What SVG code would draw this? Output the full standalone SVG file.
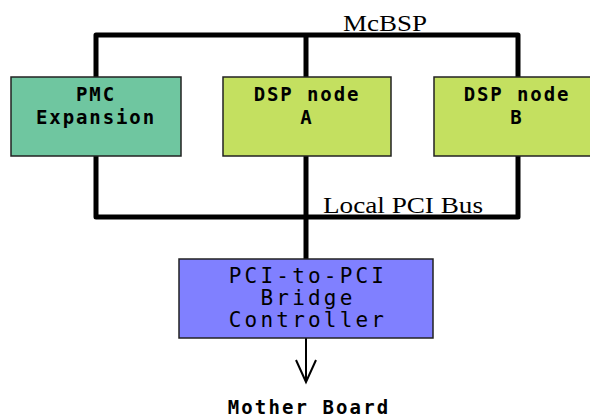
<svg xmlns="http://www.w3.org/2000/svg" width="590" height="417" viewBox="0 0 590 417">
<style>
.bus{fill:none;stroke:#000;stroke-width:5;stroke-linejoin:round}
.thin{fill:none;stroke:#000;stroke-width:2}
.box{stroke:#222;stroke-width:1.5}
.lbl{font-family:"DejaVu Sans Mono","Liberation Mono",monospace;font-weight:bold;font-size:19px;letter-spacing:1.9px;text-anchor:middle;fill:#000}
.wide{font-weight:normal;font-size:21px;letter-spacing:3.2px}
.bus-lbl{font-family:"Liberation Serif",serif;font-size:23px;fill:#000}
</style>
<rect width="590" height="417" fill="#fff"/>
<g id="connectors">
<polyline class="bus" points="96,77 96,35 518,35 518,77"/>
<line class="bus" x1="306" y1="35" x2="306" y2="77"/>
<polyline class="bus" points="96,156 96,217 518,217 518,156"/>
<line class="bus" x1="306" y1="156" x2="306" y2="259"/>
<line class="thin" x1="306" y1="338" x2="306" y2="381"/>
<polyline class="thin" points="296,360 306,382 316,360"/>
<text class="bus-lbl" x="343" y="31" textLength="84" lengthAdjust="spacingAndGlyphs">McBSP</text>
<text class="bus-lbl" x="323" y="213" textLength="160" lengthAdjust="spacingAndGlyphs">Local PCI Bus</text>
</g>
<g id="pmc">
<rect class="box" x="11" y="77" width="170" height="79" fill="#6fc6a0"/>
<text class="lbl" x="96" y="101">PMC</text>
<text class="lbl" x="96" y="124">Expansion</text>
</g>
<g id="dspA">
<rect class="box" x="223" y="77" width="168" height="79" fill="#c4e060"/>
<text class="lbl" x="307" y="101">DSP node</text>
<text class="lbl" x="307" y="124">A</text>
</g>
<g id="dspB">
<rect class="box" x="434" y="77" width="168" height="79" fill="#c4e060"/>
<text class="lbl" x="517" y="101">DSP node</text>
<text class="lbl" x="517" y="124">B</text>
</g>
<g id="bridge">
<rect class="box" x="179" y="259" width="254" height="79" fill="#8080ff"/>
<text class="lbl wide" x="308" y="283">PCI-to-PCI</text>
<text class="lbl wide" x="308" y="305">Bridge</text>
<text class="lbl wide" x="308" y="327">Controller</text>
</g>
<g id="motherboard">
<text class="lbl" x="309" y="414" style="font-size:19px;letter-spacing:2.1px">Mother Board</text>
</g>
</svg>
